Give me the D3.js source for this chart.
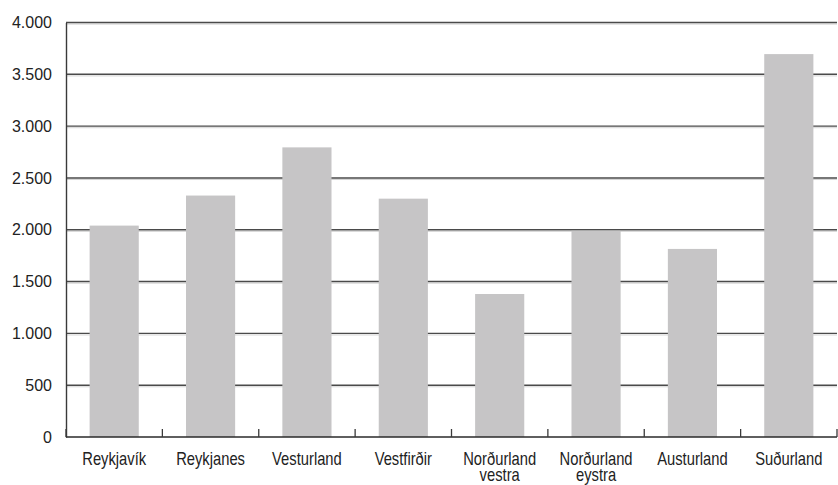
<!DOCTYPE html>
<html>
<head>
<meta charset="utf-8">
<script src="https://cdn.jsdelivr.net/npm/d3@7"></script>
<style>
  body { margin: 0; background: #fff; }
  svg { display: block; }
</style>
</head>
<body>
<svg id="chart" width="838" height="485"></svg>
<script>
const categories = ["Reykjavík", "Reykjanes", "Vesturland", "Vestfirðir", "Norðurland vestra", "Norðurland eystra", "Austurland", "Suðurland"];
const values = [2040, 2330, 2795, 2300, 1380, 1990, 1815, 3695];
const yTicks = [0, 500, 1000, 1500, 2000, 2500, 3000, 3500, 4000];
const yTickLabels = ["0", "500", "1.000", "1.500", "2.000", "2.500", "3.000", "3.500", "4.000"];

const svg = d3.select("#chart");
const margin = { left: 66, right: 1, top: 22.5, bottom: 48 };
const W = 838, H = 485;
const x = d3.scaleBand().domain(categories).range([margin.left, W - margin.right]).paddingInner(0.49).paddingOuter(0.245);
const y = d3.scaleLinear().domain([0, 4000]).range([H - margin.bottom, margin.top]);

// gridlines
const grid = svg.append("g");
yTicks.filter(d => d > 0).forEach(t => {
  grid.append("line").attr("x1", margin.left).attr("x2", W - margin.right)
    .attr("y1", y(t) + 1.6).attr("y2", y(t) + 1.6)
    .attr("stroke", "#d4d4d4").attr("stroke-width", 1);
  grid.append("line").attr("x1", margin.left).attr("x2", W - margin.right)
    .attr("y1", y(t)).attr("y2", y(t))
    .attr("stroke", "#4a4a4a").attr("stroke-width", 1.4);
});

// bars
svg.append("g").selectAll("rect").data(categories).join("rect")
  .attr("x", d => x(d))
  .attr("width", x.bandwidth())
  .attr("y", (d, i) => y(values[i]))
  .attr("height", (d, i) => y(0) - y(values[i]))
  .attr("fill", "#c6c5c6");

// y axis
const yAxis = d3.axisLeft(y).tickValues(yTicks).tickFormat((d, i) => yTickLabels[i]).tickSize(0).tickPadding(14);
const gy = svg.append("g").attr("transform", `translate(${margin.left},0)`).call(yAxis);
gy.select(".domain").attr("stroke", "#3a3a3a").attr("stroke-width", 1.4);
gy.selectAll("text").attr("font-family", "Liberation Sans, Arial, sans-serif").attr("font-size", 16).attr("fill", "#222");

// x axis
const gx = svg.append("g").attr("transform", `translate(0,${y(0)})`);
gx.append("line").attr("x1", margin.left).attr("x2", W - margin.right).attr("y1", 0).attr("y2", 0)
  .attr("stroke", "#2a2a2a").attr("stroke-width", 1.6);
const step = x.step();
const bounds = d3.range(categories.length + 1).map(i => margin.left + i * step);
gx.selectAll("line.tk").data(bounds).join("line").attr("class", "tk")
  .attr("x1", d => d).attr("x2", d => d).attr("y1", 0).attr("y2", -8)
  .attr("stroke", "#3a3a3a").attr("stroke-width", 1.3);

const lg = gx.selectAll("g.lbl").data(categories).join("g").attr("class", "lbl")
  .attr("transform", d => `translate(${x(d) + x.bandwidth() / 2},28) scale(0.82,1)`);
lg.each(function(d) {
  const parts = d.split(" ");
  const t = d3.select(this).append("text")
    .attr("text-anchor", "middle")
    .attr("font-family", "Liberation Sans, Arial, sans-serif")
    .attr("font-size", 18)
    .attr("fill", "#222");
  parts.forEach((p, i) => {
    t.append("tspan").attr("x", 0).attr("dy", i === 0 ? 0 : 16.5).text(p);
  });
});
</script>
</body>
</html>
